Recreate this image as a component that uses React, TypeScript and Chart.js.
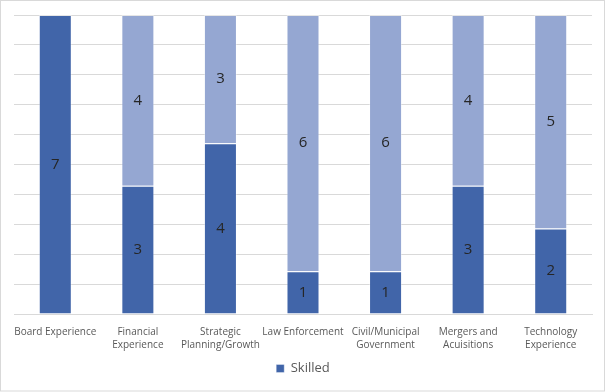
import React, { useEffect, useRef } from "react";
import { Chart, registerables } from "chart.js";

Chart.register(...registerables);

const categories: string[][] = [
  ["Board Experience"],
  ["Financial", "Experience"],
  ["Strategic", "Planning/Growth"],
  ["Law Enforcement"],
  ["Civil/Municipal", "Government"],
  ["Mergers and", "Acuisitions"],
  ["Technology", "Experience"],
];
const skilled = [7, 3, 4, 1, 1, 3, 2];
const notSkilled = [0, 4, 3, 6, 6, 4, 5];
const yMax = 7;
const yStep = 0.7;

const FONT = "'Open Sans', 'Liberation Sans', sans-serif";

const labelPlugin = {
  id: "barLabels",
  afterDatasetsDraw(chart: any) {
    const ctx = chart.ctx;
    ctx.save();
    ctx.font = `15px ${FONT}`;
    ctx.fillStyle = "#262626";
    ctx.textAlign = "center";
    ctx.textBaseline = "middle";
    chart.data.datasets.forEach((ds: any, di: number) => {
      const meta = chart.getDatasetMeta(di);
      meta.data.forEach((el: any, i: number) => {
        const v = ds.data[i];
        if (!v) return;
        const y = (el.y + el.base) / 2;
        ctx.fillText(String(v), el.x, y);
      });
    });
    ctx.restore();
  },
};

const borderPlugin = {
  id: "outerBorder",
  afterDraw(chart: any) {
    const ctx = chart.ctx;
    ctx.save();
    ctx.strokeStyle = "#D9D9D9";
    ctx.lineWidth = 1;
    ctx.strokeRect(0.5, 0.5, chart.width - 2, chart.height - 1.5);
    ctx.restore();
  },
};

export default function App() {
  const ref = useRef<HTMLCanvasElement>(null);
  useEffect(() => {
    document.body.style.margin = "0";
    const chart = new Chart(ref.current!, {
      type: "bar",
      data: {
        labels: categories,
        datasets: [
          {
            label: "Skilled",
            data: skilled,
            backgroundColor: "#4165A9",
            borderColor: "rgba(255,255,255,0.35)",
            borderWidth: 1,
            barPercentage: 0.4,
            categoryPercentage: 1,
          },
          {
            label: "",
            data: notSkilled,
            backgroundColor: "#95A7D2",
            borderColor: "rgba(255,255,255,0.35)",
            borderWidth: 1,
            barPercentage: 0.4,
            categoryPercentage: 1,
          },
        ],
      },
      options: {
        animation: false,
        responsive: false,
        maintainAspectRatio: false,
        layout: { padding: { left: 14, right: 14, top: 15, bottom: 7 } },
        scales: {
          x: {
            stacked: true,
            grid: { display: false },
            border: { display: true, color: "#D9D9D9" },
            ticks: {
              color: "#595959",
              font: { family: FONT, size: 10, lineHeight: 1.3 },
              maxRotation: 0,
              autoSkip: false,
              padding: 4,
            },
          },
          y: {
            stacked: true,
            min: 0,
            max: yMax,
            ticks: { display: false, stepSize: yStep },
            grid: { color: "#D9D9D9", drawTicks: false },
            border: { display: false },
          },
        },
        plugins: {
          legend: {
            position: "bottom",
            labels: {
              filter: (item: any) => item.text !== "",
              color: "#595959",
              font: { family: FONT, size: 13 },
              boxWidth: 8,
              boxHeight: 8,
              padding: 6,
            },
          },
          tooltip: { enabled: false },
        },
      },
      plugins: [labelPlugin, borderPlugin],
    });
    return () => chart.destroy();
  }, []);
  return (
    <div style={{ position: "fixed", left: 0, top: 0, width: 606, height: 392 }}>
      <canvas ref={ref} width={606} height={392} style={{ display: "block" }} />
    </div>
  );
}
